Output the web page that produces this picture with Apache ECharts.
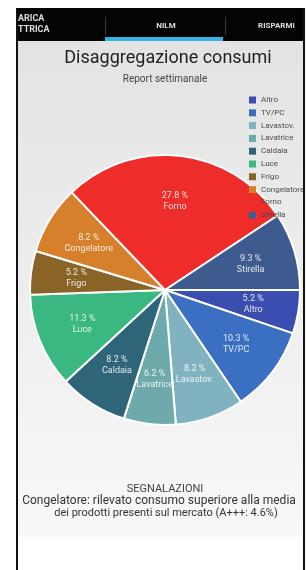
<!DOCTYPE html>
<html>
<head>
<meta charset="utf-8">
<script src="https://cdn.jsdelivr.net/npm/echarts@6/dist/echarts.min.js"></script>
<style>
  html, body { margin: 0; padding: 0; background: #fff; }
  #main_container { width: 307px; height: 570px; }
</style>
</head>
<body>
<div id="main_container"></div>
<script>
var categorie = ["Altro", "TV/PC", "Lavastov.", "Lavatrice", "Caldaia", "Luce", "Frigo", "Congelatore", "Forno", "Stirella"];
var valori = [5.2, 10.3, 8.2, 6.2, 8.2, 11.3, 5.2, 8.2, 27.8, 9.3];
var colori = ["#3a4db0", "#3a6fc2", "#80b2c0", "#6eaaab", "#2f6579", "#3bb781", "#8a6426", "#d7802c", "#ee2c2a", "#3e5b8f"];

var centro = [165, 290];
var raggio = 135;
var font = "Roboto, 'Noto Sans', sans-serif";

var myChart = echarts.init(document.getElementById("main_container"));

var datiPie = categorie.map(function (nome, i) {
  return { name: nome, value: valori[i], itemStyle: { color: colori[i] } };
});
// serie trasparente solo per posizionare le etichette piu' verso l'esterno
var datiEtichette = categorie.map(function (nome, i) {
  return { name: nome, value: valori[i], itemStyle: { color: "rgba(0,0,0,0)" } };
});

myChart.setOption({
  animation: false,
  backgroundColor: "#ffffff",
  graphic: [
    // sfondo del contenuto
    {
      type: "rect", z: -10,
      shape: { x: 18, y: 41, width: 285, height: 496 },
      style: {
        fill: new echarts.graphic.LinearGradient(0, 0, 0, 1, [
          { offset: 0, color: "#e3e3e3" },
          { offset: 1, color: "#f8f8f8" }
        ])
      }
    },
    // barra delle schede
    { type: "rect", z: 100, shape: { x: 16, y: 8, width: 288, height: 33 }, style: { fill: "#050505" } },
    { type: "rect", z: 101, shape: { x: 105, y: 37, width: 118, height: 4 }, style: { fill: "#33b5e5" } },
    { type: "rect", z: 101, shape: { x: 105, y: 17, width: 1, height: 18 }, style: { fill: "#3a3a3a" } },
    { type: "rect", z: 101, shape: { x: 225, y: 17, width: 1, height: 18 }, style: { fill: "#3a3a3a" } },
    { type: "text", z: 101, x: 18, y: 19, style: { text: "ARICA", fill: "#dddddd", font: "bold 9px " + font, verticalAlign: "middle" } },
    { type: "text", z: 101, x: 18, y: 30, style: { text: "TTRICA", fill: "#dddddd", font: "bold 9px " + font, verticalAlign: "middle" } },
    { type: "text", z: 101, x: 166, y: 26, style: { text: "NILM", fill: "#dddddd", font: "bold 8px " + font, align: "center", verticalAlign: "middle" } },
    { type: "text", z: 101, x: 258, y: 26, style: { text: "RISPARMI", fill: "#dddddd", font: "bold 8px " + font, verticalAlign: "middle" } },
    // bordi del telefono
    { type: "rect", z: 102, shape: { x: 16, y: 8, width: 2, height: 562 }, style: { fill: "#111" } },
    { type: "rect", z: 102, shape: { x: 303, y: 8, width: 2, height: 562 }, style: { fill: "#111" } },
    // titolo
    { type: "text", z: 50, x: 168, y: 58, style: { text: "Disaggregazione consumi", fill: "#222222", font: "18px " + font, align: "center", verticalAlign: "middle" } },
    { type: "text", z: 50, x: 165, y: 79, style: { text: "Report settimanale", fill: "#444444", font: "10px " + font, align: "center", verticalAlign: "middle" } },
    // segnalazioni
    { type: "text", z: 50, x: 165, y: 489, style: { text: "SEGNALAZIONI", fill: "#444444", font: "11px " + font, align: "center", verticalAlign: "middle" } },
    { type: "text", z: 50, x: 159, y: 501, style: { text: "Congelatore: rilevato consumo superiore alla media", fill: "#333333", font: "12px " + font, align: "center", verticalAlign: "middle" } },
    { type: "text", z: 50, x: 166, y: 513, style: { text: "dei prodotti presenti sul mercato (A+++: 4.6%)", fill: "#333333", font: "11px " + font, align: "center", verticalAlign: "middle" } }
  ],
  legend: {
    orient: "vertical",
    left: 244,
    top: 91,
    icon: "rect",
    itemWidth: 7,
    itemHeight: 7,
    itemGap: 4.8,
    data: categorie,
    itemStyle: { borderWidth: 0 },
    textStyle: { fontSize: 8, lineHeight: 8, color: "#4a4a4a", fontFamily: font }
  },
  series: [
    {
      name: "consumi",
      type: "pie",
      center: centro,
      radius: [0, raggio],
      startAngle: 0,
      clockwise: true,
      silent: true,
      itemStyle: { borderColor: "#ffffff", borderWidth: 2 },
      label: { show: false },
      labelLine: { show: false },
      data: datiPie
    },
    {
      name: "etichette",
      type: "pie",
      center: centro,
      radius: [0, raggio * 1.28],
      startAngle: 0,
      clockwise: true,
      silent: true,
      z: 3,
      itemStyle: { borderWidth: 0 },
      label: {
        show: true,
        position: "inside",
        formatter: "{c} %\n{b}",
        color: "rgba(255,255,255,0.85)",
        fontSize: 9,
        lineHeight: 11,
        fontFamily: font
      },
      labelLine: { show: false },
      data: datiEtichette
    }
  ]
});
</script>
</body>
</html>
